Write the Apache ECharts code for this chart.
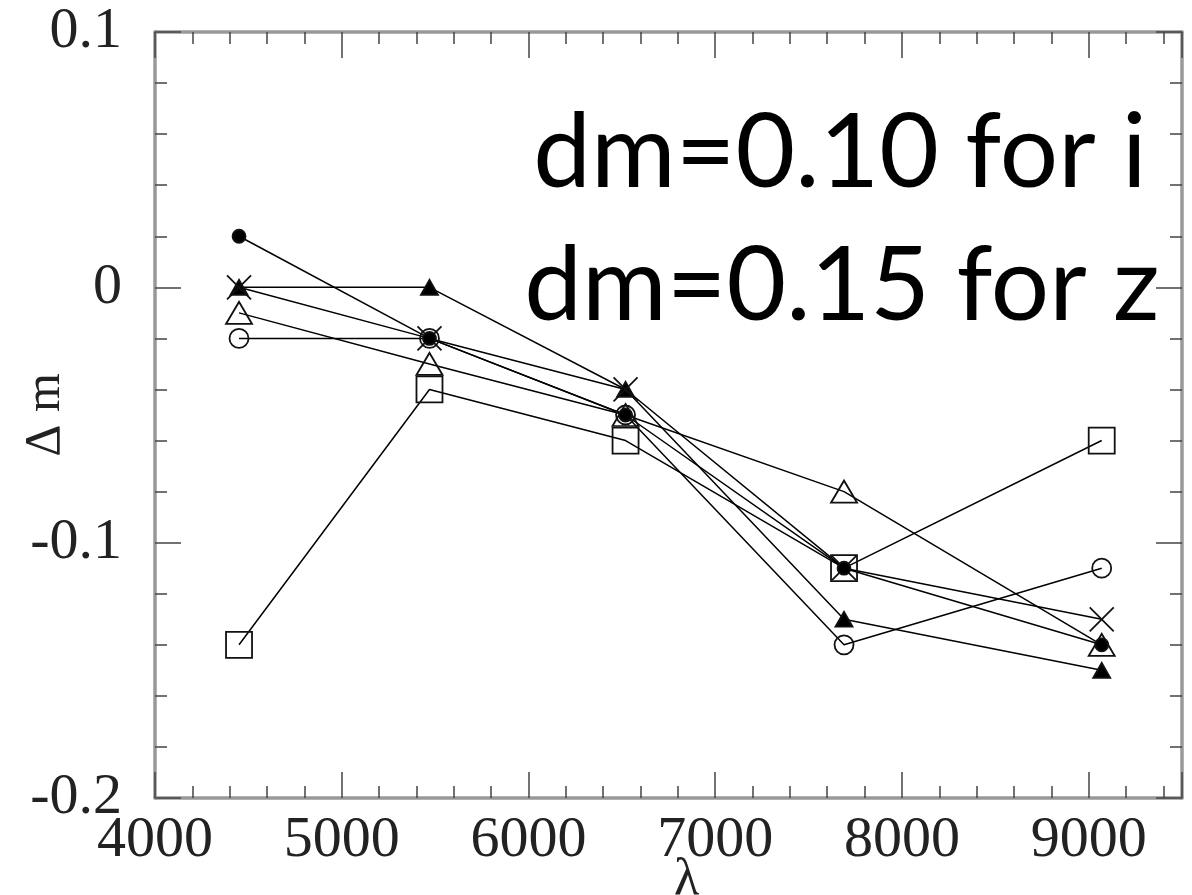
<!DOCTYPE html>
<html>
<head>
<meta charset="utf-8">
<script src="https://cdn.jsdelivr.net/npm/echarts@6/dist/echarts.min.js"></script>
<style>
  html, body { margin: 0; padding: 0; background: #fff; }
  #chart { width: 1192px; height: 895px; }
</style>
</head>
<body>
<div id="chart"></div>
<script>
// wavelength of each band (x)
var lambda = [4450, 5470, 6520, 7690, 9070];

// delta m per object
var dmFilledCircle   = [0.02, -0.02, -0.05, -0.11, -0.14];
var dmCross          = [0, -0.02, -0.04, -0.11, -0.13];
var dmFilledTriangle = [0, 0, -0.04, -0.13, -0.15];
var dmOpenTriangle   = [-0.01, -0.03, -0.05, -0.08, -0.14];
var dmOpenCircle     = [-0.02, -0.02, -0.05, -0.14, -0.11];
var dmSquare         = [-0.14, -0.04, -0.06, -0.11, -0.06];

var notes = ['dm=0.10 for i', 'dm=0.15 for z'];

var pairs = function (ys) {
  var res = [];
  for (var i = 0; i < lambda.length; i++) {
    res.push([lambda[i], ys[i]]);
  }
  return res;
};

var labelFont = {
  fontFamily: 'Liberation Serif',
  fontSize: 58,
  color: '#222'
};
var axisGray = { color: '#999', width: 3.5 };
var tickStyle = { color: '#444', width: 1.5 };
var openFill = 'rgba(0,0,0,0)';

var makeSeries = function (name, ys, symbol, size, fill) {
  return {
    name: name,
    type: 'line',
    xAxisIndex: 0,
    yAxisIndex: 0,
    data: pairs(ys),
    symbol: symbol,
    symbolSize: size,
    showAllSymbol: true,
    lineStyle: { color: '#000', width: 1.5 },
    itemStyle: { color: fill, borderColor: '#111', borderWidth: 1.8 },
    silent: true
  };
};

var chart = echarts.init(document.getElementById('chart'), null, { renderer: 'canvas' });

var gridBox = { left: 155, right: 10, top: 32, bottom: 97, containLabel: false, outerBoundsMode: 'none' };

var option = {
  animation: false,
  backgroundColor: '#fff',
  grid: [
    Object.assign({}, gridBox),
    Object.assign({}, gridBox)
  ],
  xAxis: [
    {
      gridIndex: 0, type: 'value', position: 'bottom',
      min: 4000, max: 9500, interval: 1000,
      axisLine: { onZero: false, lineStyle: axisGray },
      axisTick: { inside: true, length: 26, lineStyle: tickStyle },
      splitLine: { show: false },
      axisLabel: Object.assign({
        margin: 14,
        formatter: function (v) { return v % 1000 === 0 ? String(v) : ''; }
      }, labelFont),
      name: 'λ',
      nameLocation: 'middle',
      nameGap: 56,
      nameMoveOverlap: false,
      nameTextStyle: { fontFamily: 'Liberation Serif', fontSize: 52, color: '#222', padding: [0, 0, 0, 36] }
    },
    {
      gridIndex: 0, type: 'value', position: 'top',
      min: 4000, max: 9500, interval: 1000,
      axisLine: { onZero: false, lineStyle: axisGray },
      axisTick: { inside: true, length: 26, lineStyle: tickStyle },
      splitLine: { show: false },
      axisLabel: { show: false }
    },
    {
      gridIndex: 1, type: 'value', position: 'bottom',
      min: 4000, max: 9500, interval: 200,
      axisLine: { show: false, onZero: false },
      axisTick: { inside: true, length: 12, lineStyle: tickStyle },
      splitLine: { show: false },
      axisLabel: { show: false }
    },
    {
      gridIndex: 1, type: 'value', position: 'top',
      min: 4000, max: 9500, interval: 200,
      axisLine: { show: false, onZero: false },
      axisTick: { inside: true, length: 12, lineStyle: tickStyle },
      splitLine: { show: false },
      axisLabel: { show: false }
    }
  ],
  yAxis: [
    {
      gridIndex: 0, type: 'value', position: 'left',
      min: -0.2, max: 0.1, interval: 0.1,
      axisLine: { onZero: false, lineStyle: axisGray },
      axisTick: { inside: true, length: 26, lineStyle: tickStyle },
      minorTick: { show: true, splitNumber: 5, length: 12, lineStyle: tickStyle },
      splitLine: { show: false },
      axisLabel: Object.assign({ margin: 33 }, labelFont),
      name: 'Δ m',
      nameLocation: 'middle',
      nameGap: 84,
      nameMoveOverlap: false,
      nameTextStyle: { fontFamily: 'Liberation Serif', fontSize: 50, color: '#222' }
    },
    {
      gridIndex: 0, type: 'value', position: 'right',
      min: -0.2, max: 0.1, interval: 0.1,
      axisLine: { onZero: false, lineStyle: axisGray },
      axisTick: { inside: true, length: 26, lineStyle: tickStyle },
      minorTick: { show: true, splitNumber: 5, length: 12, lineStyle: tickStyle },
      splitLine: { show: false },
      axisLabel: { show: false }
    },
    {
      gridIndex: 1, type: 'value', show: false,
      min: -0.2, max: 0.1
    }
  ],
  series: [
    makeSeries('square', dmSquare, 'rect', 26, openFill),
    makeSeries('open circle', dmOpenCircle, 'circle', 19, openFill),
    makeSeries('open triangle', dmOpenTriangle, 'triangle', [26, 22], openFill),
    makeSeries('filled triangle', dmFilledTriangle, 'triangle', [17, 15], '#000'),
    makeSeries('cross', dmCross, 'path://M0,0L10,10M10,0L0,10', 24, openFill),
    makeSeries('filled circle', dmFilledCircle, 'circle', 13, '#000')
  ],
  graphic: [
    {
      type: 'text', x: 840, y: 154, z: 100,
      style: { text: notes[0], font: '103px Lato', fill: '#000', textAlign: 'center', textVerticalAlign: 'middle' }
    },
    {
      type: 'text', x: 842, y: 287, z: 100,
      style: { text: notes[1], font: '103px Lato', fill: '#000', textAlign: 'center', textVerticalAlign: 'middle' }
    }
  ]
};

chart.setOption(option);
</script>
</body>
</html>
